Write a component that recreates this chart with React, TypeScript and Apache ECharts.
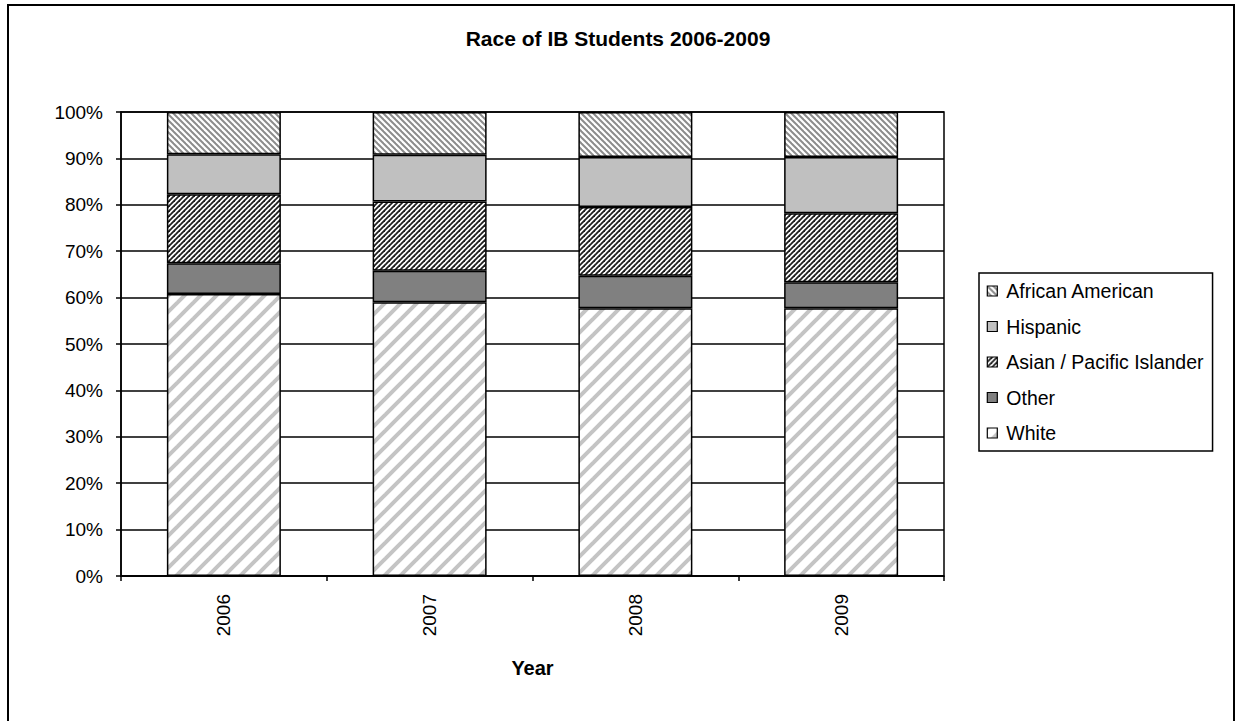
import React, { useEffect, useRef } from 'react';
import * as echarts from 'echarts';

// Share of IB students by race, percent of each year's total
const years = ['2006', '2007', '2008', '2009'];
const white = [60.8, 59.0, 57.7, 57.7];
const other = [6.6, 6.8, 7.0, 5.6];
const asianPacific = [14.9, 14.9, 14.8, 14.9];
const hispanic = [8.6, 10.1, 10.8, 12.1];
const africanAmerican = [9.1, 9.2, 9.7, 9.7];

const legendOrder = ['African American', 'Hispanic', 'Asian / Pacific Islander', 'Other', 'White'];

const FONT = '"Liberation Sans", Arial, sans-serif';

// Diagonal hatch tile drawn on a canvas; "fwd" = "/" lines, "back" = "\" lines
function stripes(size: number, width: number, color: string, dir: 'fwd' | 'back') {
  const c = document.createElement('canvas');
  c.width = size;
  c.height = size;
  const g = c.getContext('2d')!;
  g.fillStyle = '#ffffff';
  g.fillRect(0, 0, size, size);
  g.strokeStyle = color;
  g.lineWidth = width;
  for (const k of [-1, 0, 1]) {
    g.beginPath();
    if (dir === 'fwd') {
      g.moveTo(k * size - size, 2 * size);
      g.lineTo(k * size + 2 * size, -size);
    } else {
      g.moveTo(k * size - size, -size);
      g.lineTo(k * size + 2 * size, 2 * size);
    }
    g.stroke();
  }
  return { image: c.toDataURL(), repeat: 'repeat', imageWidth: size, imageHeight: size } as any;
}

export default function App() {
  const ref = useRef<HTMLDivElement>(null);

  useEffect(() => {
    if (!ref.current) return;
    const chart = echarts.init(ref.current, null, { renderer: 'svg' });

    const africanFill = stripes(6, 2, '#8c8c8c', 'back');
    const asianFill = stripes(5, 1.8, '#1e1e1e', 'fwd');
    const whiteFill = stripes(16, 4, '#c4c4c4', 'fwd');

    const barStyle = (color: any) => ({ color, borderColor: '#000', borderWidth: 1.5 });
    const base = {
      type: 'bar',
      stack: 'race',
      barWidth: 114,
      emphasis: { disabled: true },
    };

    chart.setOption({
      animation: false,
      backgroundColor: '#ffffff',
      title: {
        text: 'Race of IB Students 2006-2009',
        left: 'center',
        top: 28,
        padding: 0,
        textStyle: { fontFamily: FONT, fontWeight: 'bold', fontSize: 21, color: '#000' },
      },
      grid: {
        left: 121,
        right: 292,
        top: 112,
        bottom: 145,
        show: true,
        borderColor: '#000',
        borderWidth: 1.5,
        backgroundColor: 'transparent',
      },
      legend: {
        data: legendOrder,
        orient: 'vertical',
        left: 979,
        top: 273,
        padding: [8, 9, 8, 7.7],
        itemGap: 15.5,
        itemWidth: 10,
        itemHeight: 10,
        icon: 'rect',
        selectedMode: false,
        borderColor: '#000',
        borderWidth: 1.5,
        backgroundColor: '#fff',
        itemStyle: { borderColor: '#000', borderWidth: 1.2 },
        textStyle: {
          fontFamily: FONT,
          fontSize: 19.5,
          color: '#000',
          lineHeight: 20,
          padding: [0, 0, 0, 4],
        },
      },
      xAxis: {
        type: 'category',
        data: years,
        axisLine: { lineStyle: { color: '#000', width: 1.5 } },
        axisTick: { show: true, length: 5, lineStyle: { color: '#000', width: 1.5 } },
        axisLabel: { rotate: 90, fontFamily: FONT, fontSize: 19, color: '#000', margin: 18 },
        name: 'Year',
        nameLocation: 'middle',
        nameGap: 82,
        nameTextStyle: { fontFamily: FONT, fontWeight: 'bold', fontSize: 20, color: '#000' },
      },
      yAxis: {
        type: 'value',
        min: 0,
        max: 100,
        interval: 10,
        axisLine: { show: true, lineStyle: { color: '#000', width: 1.5 } },
        axisTick: { show: true, length: 5, lineStyle: { color: '#000', width: 1.5 } },
        splitLine: { show: true, lineStyle: { color: '#000', width: 1.5 } },
        axisLabel: { formatter: '{value}%', fontFamily: FONT, fontSize: 19, color: '#000', margin: 18 },
      },
      graphic: [
        {
          type: 'rect',
          shape: { x: 8, y: 5, width: 1226, height: 730 },
          style: { fill: 'none', stroke: '#000', lineWidth: 2 },
          silent: true,
        },
      ],
      series: [
        { ...base, name: 'White', data: white, itemStyle: barStyle(whiteFill) },
        { ...base, name: 'Other', data: other, itemStyle: barStyle('#808080') },
        { ...base, name: 'Asian / Pacific Islander', data: asianPacific, itemStyle: barStyle(asianFill) },
        { ...base, name: 'Hispanic', data: hispanic, itemStyle: barStyle('#c0c0c0') },
        { ...base, name: 'African American', data: africanAmerican, itemStyle: barStyle(africanFill) },
      ],
    });

    return () => chart.dispose();
  }, []);

  return (
    <div
      ref={ref}
      style={{ position: 'fixed', left: 0, top: 0, width: 1236, height: 721, background: '#fff' }}
    />
  );
}
